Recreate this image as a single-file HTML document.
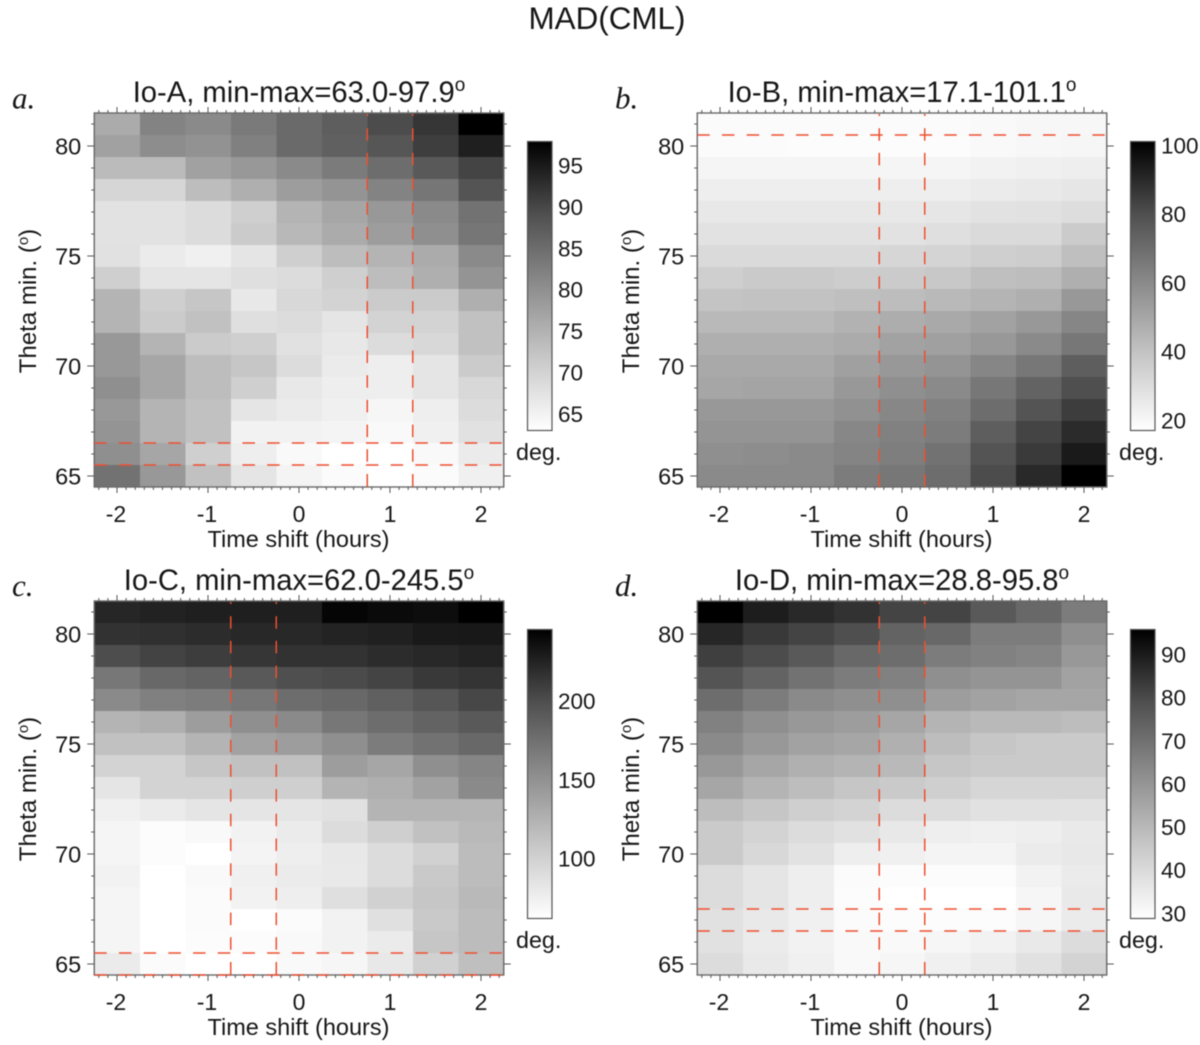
<!DOCTYPE html>
<html lang="en">
<head>
<meta charset="utf-8">
<title>MAD(CML)</title>
<style>
html,body{margin:0;padding:0;background:#fff;}
#figure{display:block;width:1200px;height:1045px;filter:blur(0.55px);}
text{font-family:"Liberation Sans",Arial,sans-serif;fill:#161616;}
.letter{font-family:"Liberation Serif","Times New Roman",serif;font-style:italic;font-size:31px;}
</style>
</head>
<body>
<svg id="figure" xmlns="http://www.w3.org/2000/svg" width="1200" height="1045" viewBox="0 0 1200 1045">
  <defs>
    <linearGradient id="barGradient" x1="0" y1="0" x2="0" y2="1">
      <stop offset="0" stop-color="#000"/>
      <stop offset="0.25" stop-color="#4f4f4f"/>
      <stop offset="0.5" stop-color="#8d8d8d"/>
      <stop offset="0.75" stop-color="#c8c8c8"/>
      <stop offset="1" stop-color="#fff"/>
    </linearGradient>
  </defs>
  <text x="607" y="29" text-anchor="middle" font-size="31.4">MAD(CML)</text>
</svg>
<script>
const timeShifts = [-2, -1.5, -1, -0.5, 0, 0.5, 1, 1.5, 2];
const thetaMins = [81, 80, 79, 78, 77, 76, 75, 74, 73, 72, 71, 70, 69, 68, 67, 66, 65];
const hourTicks = [-2, -1, 0, 1, 2];
const thetaTicks = [65, 70, 75, 80];

const ioAValues = [
  [76.0,81.8,80.8,83.1,85.3,87.0,89.4,92.2,97.9],
  [77.4,80.4,79.7,82.2,85.3,86.7,88.1,91.1,94.9],
  [73.5,73.5,77.4,78.8,80.8,82.9,84.9,87.7,90.4],
  [69.4,69.4,73.3,75.3,78.1,79.4,81.8,83.6,88.3],
  [67.5,67.5,68.5,70.5,74.6,76.7,78.8,80.8,84.2],
  [67.5,67.5,68.5,71.2,74.0,76.0,78.1,80.1,83.6],
  [67.8,66.2,65.3,67.1,70.5,73.3,74.6,76.0,80.8],
  [70.5,67.1,67.1,68.1,68.5,70.5,73.3,75.3,79.4],
  [74.6,70.5,71.9,66.7,69.2,69.9,71.2,71.2,75.3],
  [74.6,71.2,72.6,68.1,68.5,67.1,69.9,69.9,72.6],
  [78.8,74.6,71.2,70.5,67.8,66.7,68.5,69.2,72.6],
  [78.8,76.7,73.3,71.9,68.5,66.2,65.7,67.1,71.2],
  [80.1,76.7,73.3,70.5,66.7,65.7,65.7,67.1,69.2],
  [78.8,74.6,72.6,67.1,66.2,65.3,64.4,65.7,68.5],
  [79.4,74.6,72.6,65.1,65.1,64.7,64.0,65.3,67.8],
  [80.1,76.7,70.5,65.7,64.0,63.0,63.0,64.0,66.2],
  [84.2,78.8,72.6,67.1,64.7,63.7,63.0,63.7,65.3]
];
const ioBValues = [
  [18.7,18.7,18.7,18.7,18.7,18.7,19.4,20.1,20.1],
  [18.7,18.7,18.1,18.1,18.1,18.1,19.4,20.1,20.7],
  [21.0,21.0,21.0,21.0,21.0,21.0,22.0,22.7,23.4],
  [23.7,23.7,23.7,23.7,23.7,23.7,24.7,25.3,26.6],
  [26.0,26.0,26.0,26.0,26.0,26.6,28.0,28.6,29.9],
  [28.0,28.0,28.0,28.0,28.0,29.3,31.2,31.2,36.5],
  [31.2,31.2,31.2,31.2,32.6,33.2,35.2,35.9,41.1],
  [35.2,36.9,36.9,35.9,36.5,37.8,41.1,41.8,46.7],
  [39.1,39.8,39.8,41.1,41.8,43.1,45.1,46.7,54.9],
  [43.4,43.4,43.4,45.7,47.7,49.0,51.6,54.9,61.5],
  [46.7,46.7,46.7,48.4,51.6,52.3,54.9,59.9,66.4],
  [49.0,49.0,49.0,52.3,54.9,56.6,61.5,66.4,74.7],
  [50.0,51.0,51.0,54.9,58.2,59.9,66.4,73.0,79.6],
  [54.9,54.9,54.9,57.6,60.9,63.2,69.7,78.0,85.2],
  [56.6,56.6,56.6,60.9,63.2,64.8,74.7,82.9,90.5],
  [58.2,58.9,59.9,62.2,64.1,68.1,78.0,86.2,95.1],
  [59.9,59.9,59.9,64.8,66.4,69.7,80.6,91.1,101.1]
];
const ioCValues = [
  [225.4,227.6,229.8,229.8,229.8,243.4,241.3,239.8,245.5],
  [218.0,219.0,222.0,224.0,224.0,227.0,229.0,233.0,234.0],
  [200.0,207.0,211.0,215.0,218.0,218.0,222.0,224.0,227.0],
  [170.0,180.8,184.4,191.6,198.8,201.0,206.0,213.2,216.8],
  [155.6,162.8,166.4,170.0,177.2,180.8,186.6,193.8,203.8],
  [123.2,126.8,141.2,152.0,155.6,170.0,177.2,184.4,191.6],
  [112.4,112.4,123.2,137.6,141.2,152.0,166.4,173.6,180.8],
  [98.0,98.0,108.8,112.4,112.4,141.2,134.0,152.0,159.2],
  [83.6,98.0,98.0,101.6,101.6,123.2,126.8,137.6,155.6],
  [74.2,78.6,83.6,83.6,83.6,87.2,123.2,123.2,122.0],
  [70.6,64.2,67.0,72.8,78.6,90.8,101.6,113.0,119.0],
  [70.6,64.2,62.0,71.4,76.4,81.4,90.8,100.0,117.0],
  [72.8,62.0,67.0,74.2,78.6,80.0,90.8,106.0,117.0],
  [70.6,62.0,65.6,72.8,76.4,88.6,100.0,109.0,119.0],
  [70.6,62.0,65.6,62.0,65.6,72.8,88.0,106.0,117.0],
  [70.6,62.0,64.2,64.2,67.0,72.8,78.6,109.0,117.0],
  [78.6,65.6,62.0,62.0,67.0,69.2,81.4,100.0,114.0]
];
const ioDValues = [
  [95.8,90.5,87.9,85.8,81.3,81.3,76.1,72.1,66.9],
  [88.4,84.0,81.3,78.7,73.5,72.1,66.9,66.9,61.6],
  [82.7,79.5,76.1,72.1,70.8,66.9,65.6,64.3,59.0],
  [77.4,73.5,69.5,66.9,65.6,61.6,60.3,60.3,56.4],
  [70.8,66.9,63.0,61.6,61.6,57.7,56.4,55.1,55.1],
  [65.6,61.6,59.0,57.7,55.1,51.1,49.8,49.8,48.5],
  [63.0,59.0,56.4,55.1,52.4,48.5,45.9,44.6,44.6],
  [59.0,55.1,52.4,51.1,49.8,45.9,44.6,44.6,44.6],
  [55.1,51.1,48.5,45.9,44.6,43.2,41.1,41.1,41.1],
  [48.5,45.9,43.2,41.9,39.3,39.3,38.0,38.0,37.5],
  [44.6,41.9,39.3,38.0,35.9,34.1,33.3,34.1,35.4],
  [44.6,40.6,37.5,34.1,33.3,32.2,32.2,34.8,35.9],
  [39.3,36.7,34.1,30.1,29.6,29.6,29.6,32.7,34.8],
  [39.3,36.7,34.1,29.6,28.8,28.8,28.8,31.4,35.4],
  [38.0,35.4,33.3,30.1,29.6,29.6,29.6,31.4,34.8],
  [38.0,34.8,32.7,30.6,30.6,31.4,32.7,35.4,39.3],
  [39.3,35.4,33.3,30.6,31.4,33.3,34.8,38.0,41.9]
];

const panelTitles = ["Io-A, min-max=63.0-97.9", "Io-B, min-max=17.1-101.1", "Io-C, min-max=62.0-245.5", "Io-D, min-max=28.8-95.8"];
const panelLetters = ["a.", "b.", "c.", "d."];
const panelValues = [ioAValues, ioBValues, ioCValues, ioDValues];
const panelMins = [63.0, 17.1, 62.0, 28.8];
const panelMaxes = [97.9, 101.1, 245.5, 95.8];
const barTicksA = [65, 70, 75, 80, 85, 90, 95];
const barTicksB = [20, 40, 60, 80, 100];
const barTicksC = [100, 150, 200];
const barTicksD = [30, 40, 50, 60, 70, 80, 90];
const panelBarTicks = [barTicksA, barTicksB, barTicksC, barTicksD];
const bestHours = [1, 0, -0.5, 0];
const bestThetas = [66, 81, 65, 67];

const SVG_NS = "http://www.w3.org/2000/svg";
const root = document.getElementById("figure");
const defs = root.querySelector("defs");

function mk(tag, parent, attrs, text) {
  const el = document.createElementNS(SVG_NS, tag);
  for (const k in attrs) el.setAttribute(k, attrs[k]);
  if (text !== undefined) el.textContent = text;
  parent.appendChild(el);
  return el;
}

function drawPanel(idx) {
  const ox = idx % 2 ? 603 : 0;
  const oy = idx > 1 ? 488 : 0;
  const letter = panelLetters[idx].charAt(0);
  const values = panelValues[idx];
  const vMin = panelMins[idx];
  const vMax = panelMaxes[idx];

  const xScale = h => ox + 299 + h * 91;
  const yScale = t => oy + 476 - (t - 65) * 22;
  const barTop = oy + 141.5;
  const barBottom = oy + 430.5;
  const barX = ox + 527.5;
  const barScale = v => barBottom - (v - vMin) / (vMax - vMin) * (barBottom - barTop);
  const grayOf = v => {
    const f = Math.max(0, Math.min(1, (v - vMin) / (vMax - vMin)));
    const g = Math.round(255 * Math.pow(1 - f, 0.86));
    return "rgb(" + g + "," + g + "," + g + ")";
  };

  const panel = mk("g", root, {});
  
  

  const title = mk("text", panel, { x: xScale(0), y: oy + 102, "text-anchor": "middle", "font-size": 29.2 }, panelTitles[idx]);
  
  
  mk("tspan", title, { dy: -11, "font-size": 19 }, "o");

  const letterEl = mk("text", panel, { class: "letter", x: ox + 12, y: oy + (oy ? 108 : 108.7) }, panelLetters[idx]);
  
  

  const heatmap = mk("g", panel, { "shape-rendering": "crispEdges" });
  
  
  thetaMins.forEach((theta, r) => {
    timeShifts.forEach((hour, c) => {
      const x0 = xScale(hour - 0.25), x1 = xScale(hour + 0.25);
      const y0 = yScale(theta + 0.5), y1 = yScale(theta - 0.5);
      const cell = mk("rect", heatmap, { x: x0, y: y0, width: x1 - x0 + 0.5, height: y1 - y0 + 0.5, fill: grayOf(values[r][c]) });
      
      
    });
  });

  const left = xScale(-2.25), right = xScale(2.25);
  const top = yScale(81.5), bottom = yScale(64.5);

  const frame = mk("rect", panel, { x: left, y: top, width: right - left, height: bottom - top, fill: "none", stroke: "#6a6a6a", "stroke-width": 1.4 });
  
  

  const clipId = "plotClip" + idx;
  const clip = mk("clipPath", defs, { id: clipId });
  mk("rect", clip, { x: left, y: top + 1, width: right - left - 2, height: bottom - top + 0.5 });

  const bestLines = mk("g", panel, { stroke: "#ee4f30", "stroke-width": 1.5, "stroke-dasharray": "12.5 12.2", fill: "none", "clip-path": "url(#" + clipId + ")" });
  
  
  [bestHours[idx] - 0.25, bestHours[idx] + 0.25].forEach(h => {
    mk("line", bestLines, { x1: xScale(h), x2: xScale(h), y1: top, y2: bottom, "stroke-dashoffset": 9.5 });
  });
  [bestThetas[idx] - 0.5, bestThetas[idx] + 0.5].forEach(t => {
    mk("line", bestLines, { x1: left, x2: right, y1: yScale(t), y2: yScale(t) });
  });

  const ticks = mk("g", panel, { stroke: "#555", "stroke-width": 1 });
  
  
  for (let i = -22; i <= 22; i++) {
    const x = xScale(i / 10);
    const len = i % 10 === 0 ? 6 : 3;
    mk("line", ticks, { x1: x, x2: x, y1: bottom, y2: bottom + len });
    mk("line", ticks, { x1: x, x2: x, y1: top, y2: top - len });
  }
  for (let t = 65; t <= 81; t++) {
    const y = yScale(t);
    const len = t % 5 === 0 ? 7 : 3;
    mk("line", ticks, { x1: left, x2: left - len, y1: y, y2: y });
    mk("line", ticks, { x1: right, x2: right + len, y1: y, y2: y });
  }

  hourTicks.forEach(h => {
    const label = mk("text", panel, { x: xScale(h) - (h < 0 ? 1 : 0), y: bottom + 35, "text-anchor": "middle", "font-size": 23 }, String(h));
    
    
  });
  thetaTicks.forEach(t => {
    const label = mk("text", panel, { x: left - 13, y: yScale(t) + 8.5, "text-anchor": "end", "font-size": 23.5 }, String(t));
    
    
  });

  const xTitle = mk("text", panel, { x: xScale(0) - 0.5, y: oy + 547, "text-anchor": "middle", "font-size": 23.5 }, "Time shift (hours)");
  
  

  const yTitle = mk("text", panel, { transform: "translate(" + (ox + 36) + "," + (oy + 301) + ") rotate(-90)", "text-anchor": "middle", "font-size": 24 }, "Theta min. (");
  
  
  mk("tspan", yTitle, { dy: -8, "font-size": 15 }, "o");
  mk("tspan", yTitle, { dy: 8 }, ")");

  const bar = mk("rect", panel, { x: barX, y: barTop, width: 24.5, height: barBottom - barTop, fill: "url(#barGradient)", stroke: "#555", "stroke-width": 1.2 });
  
  

  panelBarTicks[idx].forEach(v => {
    const label = mk("text", panel, { x: barX + 30.5, y: barScale(v) + 8, "font-size": 22.5 }, String(v));
    
    
  });

  const unit = mk("text", panel, { x: ox + 516, y: oy + 460, "font-size": 23.3 }, "deg.");
  
  
}

panelValues.forEach((_, i) => drawPanel(i));
</script>
</body>
</html>
